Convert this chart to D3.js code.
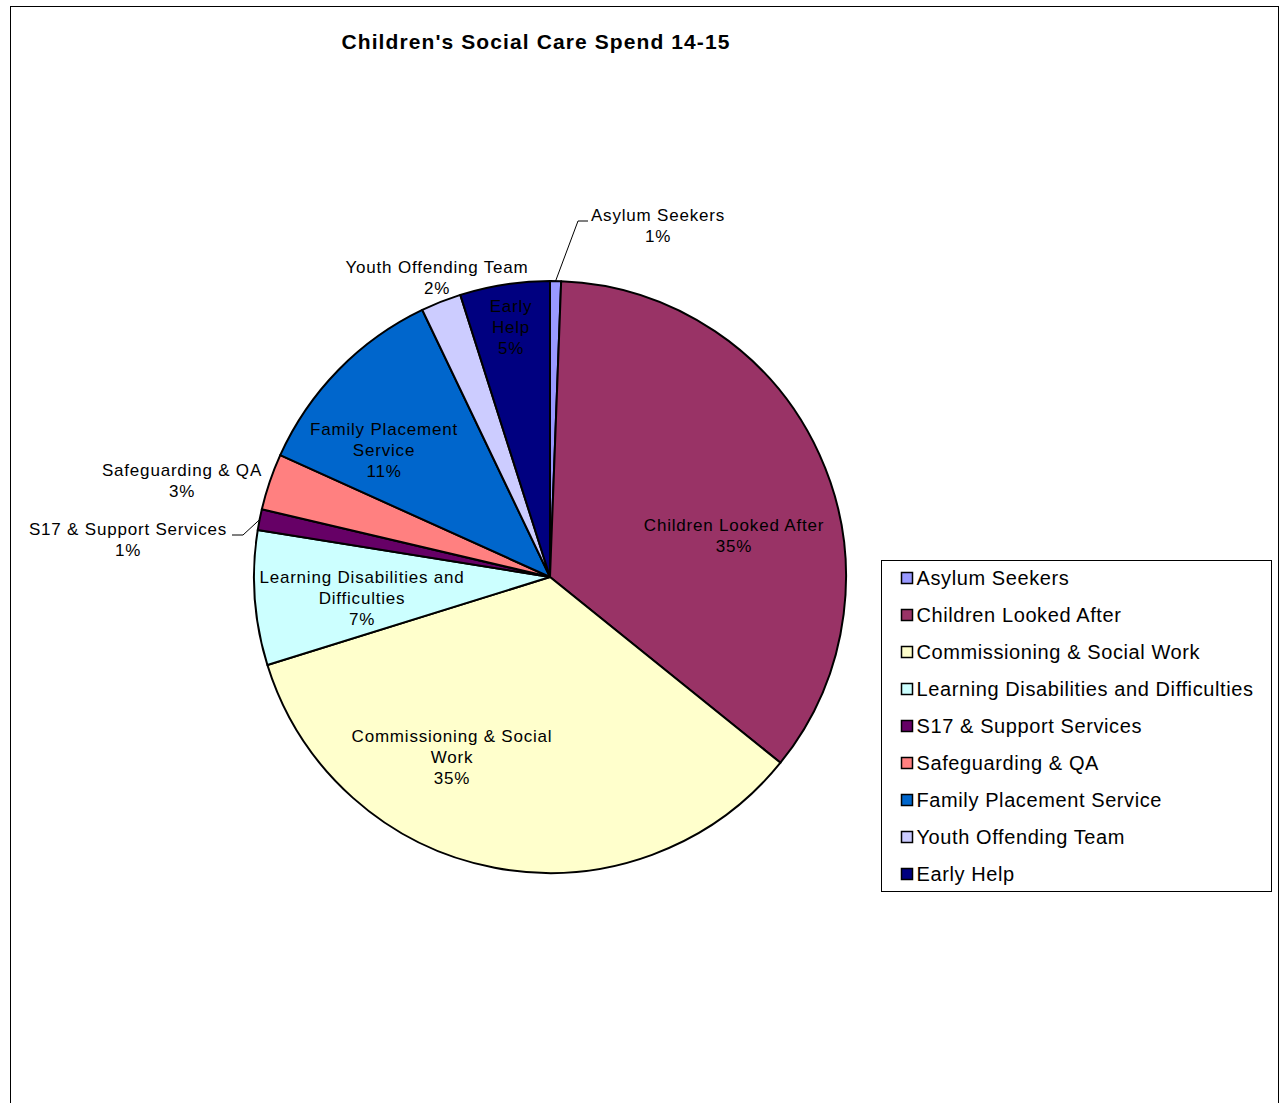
<!DOCTYPE html>
<html>
<head>
<meta charset="utf-8">
<script src="https://cdn.jsdelivr.net/npm/d3@7"></script>
<style>
  body { margin: 0; background: #fff; }
  text { font-family: "Liberation Sans", Arial, sans-serif; }
</style>
</head>
<body>
<div id="chart-area"></div>
<script>
// data (share of spend, %)
const categories = ["Asylum Seekers", "Children Looked After", "Commissioning & Social Work",
    "Learning Disabilities and Difficulties", "S17 & Support Services", "Safeguarding & QA",
    "Family Placement Service", "Youth Offending Team", "Early Help"];
const values = [0.6, 35.2, 34.4, 7.34, 1.14, 3.08, 11.15, 2.2, 4.9];
const pctLabels = ["1%", "35%", "35%", "7%", "1%", "3%", "11%", "2%", "5%"];
const colors = ["#9999FF", "#993366", "#FFFFCC", "#CCFFFF", "#660066", "#FF8080",
    "#0066CC", "#CCCCFF", "#000080"];

// label text lines (as wrapped in the picture) and where they sit, offset from pie centre
const labelLines = [
    ["Asylum Seekers", pctLabels[0]],
    ["Children Looked After", pctLabels[1]],
    ["Commissioning  & Social", "Work", pctLabels[2]],
    ["Learning Disabilities and", "Difficulties", pctLabels[3]],
    ["S17 & Support Services", pctLabels[4]],
    ["Safeguarding & QA", pctLabels[5]],
    ["Family Placement", "Service", pctLabels[6]],
    ["Youth Offending Team", pctLabels[7]],
    ["Early", "Help", pctLabels[8]]
];
const labelOffset = [[108, -352], [184, -42], [-98, 180], [-188, 21], [-422, -38],
    [-368, -97], [-166, -127], [-113, -300], [-39, -250]];

const W = 1282, H = 1103;
const cx = 550, cy = 577, R = 296;

const svg = d3.select("#chart-area")
    .append("svg")
    .attr("width", W)
    .attr("height", H);

// outer frame (bottom edge runs off the picture)
svg.append("rect")
    .attr("x", 10.5).attr("y", 6.5)
    .attr("width", 1268).attr("height", 1200)
    .attr("fill", "#fff")
    .attr("stroke", "#000")
    .attr("stroke-width", 1);

svg.append("text")
    .attr("x", 536)
    .attr("y", 49)
    .attr("text-anchor", "middle")
    .attr("font-size", "21px")
    .attr("font-weight", "bold")
    .attr("letter-spacing", "1.1px")
    .text("Children's Social Care Spend 14-15");

const pie = d3.pie().sort(null).value(function(d){ return d; });
const arc = d3.arc().innerRadius(0).outerRadius(R);
const arcs = pie(values);

const g = svg.append("g")
    .attr("transform", "translate(" + cx + ", " + cy + ")");

g.selectAll("path.slice")
    .data(arcs)
    .enter()
    .append("path")
        .attr("class", "slice")
        .attr("d", arc)
        .attr("fill", function(d, i){ return colors[i]; })
        .attr("stroke", "#000")
        .attr("stroke-width", 2)
        .attr("stroke-linejoin", "round");

// leader lines for the two small outside labels
function leader(i, endPt, tailX) {
    const a = (arcs[i].startAngle + arcs[i].endAngle) / 2;
    const p0 = [Math.sin(a) * R, -Math.cos(a) * R];
    g.append("polyline")
        .attr("points", [p0, endPt, [tailX, endPt[1]]].map(function(p){ return p.join(","); }).join(" "))
        .attr("fill", "none")
        .attr("stroke", "#000")
        .attr("stroke-width", 1);
}
leader(0, [28, -356], 38);
leader(4, [-307, -42], -318);

const lineH = 21;
const labels = g.selectAll("text.lbl")
    .data(labelLines)
    .enter()
    .append("text")
        .attr("class", "lbl")
        .attr("text-anchor", "middle")
        .attr("font-size", "17px")
        .attr("letter-spacing", "0.8px")
        .attr("fill", "#000")
        .attr("transform", function(d, i){
            return "translate(" + labelOffset[i][0] + "," + labelOffset[i][1] + ")";
        });

labels.selectAll("tspan")
    .data(function(d){ return d; })
    .enter()
    .append("tspan")
        .attr("x", 0)
        .attr("y", function(d, j, nodes){
            const n = nodes.length;
            return (j - (n - 1) / 2) * lineH + 6;
        })
        .text(function(d){ return d; });

// legend
const legend = svg.append("g")
    .attr("transform", "translate(881.5, 560.5)");

legend.append("rect")
    .attr("width", 390)
    .attr("height", 331)
    .attr("fill", "#fff")
    .attr("stroke", "#000")
    .attr("stroke-width", 1);

const items = legend.selectAll("g.item")
    .data(categories)
    .enter()
    .append("g")
        .attr("class", "item")
        .attr("transform", function(d, i){ return "translate(0," + (17 + i * 37) + ")"; });

items.append("rect")
    .attr("x", 20)
    .attr("y", -5)
    .attr("width", 11)
    .attr("height", 11)
    .attr("fill", function(d, i){ return colors[i]; })
    .attr("stroke", "#000")
    .attr("stroke-width", 1.5);

items.append("text")
    .attr("x", 35)
    .attr("y", 7)
    .attr("font-size", "20px")
    .attr("letter-spacing", "0.6px")
    .text(function(d){ return d; });
</script>
</body>
</html>
